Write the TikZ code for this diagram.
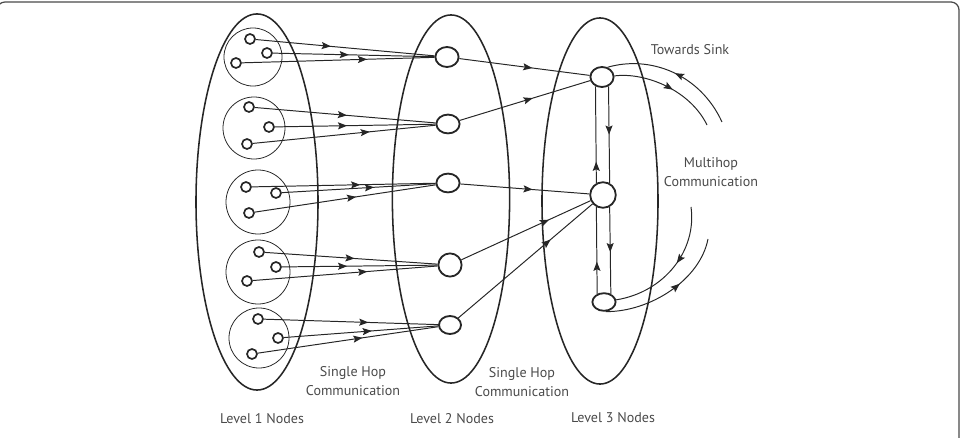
\documentclass[tikz,border=0pt]{standalone}
\usepackage{xcolor}
\usepackage{tikz}
\usetikzlibrary{shapes.geometric,arrows.meta,decorations.markings}
\usepackage{fontspec}
\setmainfont{PT Sans}
\definecolor{netline}{HTML}{262626}
\definecolor{netgray}{HTML}{4a4a4a}

\begin{document}
\begin{tikzpicture}[x=0.025cm,y=-0.025cm,
  sensor/.style={circle,draw=netline,line width=1.2pt,inner sep=0pt,minimum size=0.25cm},
  relay/.style={ellipse,draw=netline,line width=1.3pt,inner sep=0pt,minimum width=0.58cm,minimum height=0.5cm},
  level/.style={ellipse,draw=netline,line width=1.1pt,inner sep=0pt},
  cluster/.style={circle,draw=netline,line width=0.55pt,inner sep=0pt},
  hop/.style={draw=netline,line width=0.7pt,postaction={decorate},
    decoration={markings,mark=at position #1 with {\arrow{Stealth[length=6.5pt,width=5pt,inset=1.2pt]}}}},
  hop/.default=0.5,
  lbl/.style={text=netgray,font=\fontsize{10}{13}\selectfont,align=center}]
  \useasboundingbox (0,0) rectangle (967,438);
  \draw[netgray,line width=0.9pt,rounded corners=0.2cm] (-3,2) rectangle (959,470);

  \node[level,minimum width=3.05cm,minimum height=9.4cm] (lvlA) at (257,202) {};
  \node[level,minimum width=2.93cm,minimum height=9.2cm] (lvlB) at (451,199) {};
  \node[level,minimum width=2.9cm,minimum height=9.15cm] (lvlC) at (600,201) {};

  \node[cluster,minimum size=1.45cm] (grpA) at (253,57) {};
  \node[cluster,minimum size=1.55cm] (grpB) at (254,128) {};
  \node[cluster,minimum size=1.6cm] (grpC) at (258,202) {};
  \node[cluster,minimum size=1.6cm] (grpD) at (258,272) {};
  \node[cluster,minimum size=1.5cm] (grpE) at (259,338) {};

  \node[sensor] (s11) at (250,39) {};
  \node[sensor] (s12) at (267,53) {};
  \node[sensor] (s13) at (236,63) {};
  \node[sensor] (s21) at (249,107) {};
  \node[sensor] (s22) at (269,127) {};
  \node[sensor] (s23) at (247,144) {};
  \node[sensor] (s31) at (246,187) {};
  \node[sensor] (s32) at (276,193) {};
  \node[sensor] (s33) at (249,213) {};
  \node[sensor] (s41) at (259,252) {};
  \node[sensor] (s42) at (276,267) {};
  \node[sensor] (s43) at (247,281) {};
  \node[sensor] (s51) at (258,319) {};
  \node[sensor] (s52) at (278,338) {};
  \node[sensor] (s53) at (252,354) {};

  \node[relay] (r1) at (447,57) {};
  \node[relay,minimum height=0.47cm] (r2) at (448,124) {};
  \node[relay,minimum height=0.47cm] (r3) at (448,183) {};
  \node[relay,minimum height=0.58cm] (r4) at (450,265) {};
  \node[relay,minimum width=0.55cm,minimum height=0.45cm] (r5) at (450,325) {};

  \node[relay] (h1) at (602,77) {};
  \node[relay,minimum width=0.64cm,minimum height=0.64cm] (h2) at (603,195) {};
  \node[relay,minimum height=0.44cm] (h3) at (604,302) {};

  \draw[hop=0.42] (s11) -- (r1);
  \draw[hop=0.47] (s12) -- (r1);
  \draw[hop=0.65] (s13) -- (r1);
  \draw[hop=0.51] (s21) -- (r2);
  \draw[hop=0.45] (s22) -- (r2);
  \draw[hop=0.64] (s23) -- (r2);
  \draw[hop=0.59] (s31) -- (r3);
  \draw[hop=0.6] (s32) -- (r3);
  \draw[hop=0.56] (s33) -- (r3);
  \draw[hop=0.52] (s41) -- (r4);
  \draw[hop=0.42] (s42) -- (r4);
  \draw[hop=0.62] (s43) -- (r4);
  \draw[hop=0.6] (s51) -- (r5);
  \draw[hop=0.57] (s52) -- (r5);
  \draw[hop=0.58] (s53) -- (r5);

  \draw[hop=0.56] (r1) -- (h1);
  \draw[hop=0.56] (r2) -- (h1);
  \draw[hop=0.56] (r3) -- (h2);
  \draw[hop=0.68] (r4) -- (h2);
  \draw[hop=0.69] (r5) -- (h2);

  \draw[hop=0.5] (h1.-55) -- (h2.61);
  \draw[hop=0.22] (h2.119) -- (h1.-125);
  \draw[hop=0.52] (h2.-61) -- (h3.50);
  \draw[hop=0.37] (h3.130) -- (h2.-119);

  \coordinate (sinkA) at (722,122);
  \coordinate (sinkB) at (707,125);
  \coordinate (sinkC) at (691,207);
  \coordinate (sinkD) at (708,239);
  \draw[hop=0.5] (sinkA) .. controls (700,74) and (650,55) .. (h1.60);
  \draw[hop=0.55] (h1.5) .. controls (645,72) and (690,90) .. (sinkB);
  \draw[hop=0.45] (sinkC) .. controls (697,250) and (665,292) .. (h3.10);
  \draw[hop=0.6] (h3.-80) .. controls (650,312) and (700,280) .. (sinkD);

  \node[lbl] (towards) at (690,50) {Towards Sink};
  \node[lbl] (multi) at (711,172) {Multihop\\Communication};
  \node[lbl] (hopA) at (353,381) {Single Hop\\Communication};
  \node[lbl] (hopB) at (522,382) {Single Hop\\Communication};
  \node[lbl] (labA) at (262,419) {Level 1 Nodes};
  \node[lbl] (labB) at (452,419) {Level 2 Nodes};
  \node[lbl] (labC) at (613,418) {Level 3 Nodes};
\end{tikzpicture}
\end{document}
